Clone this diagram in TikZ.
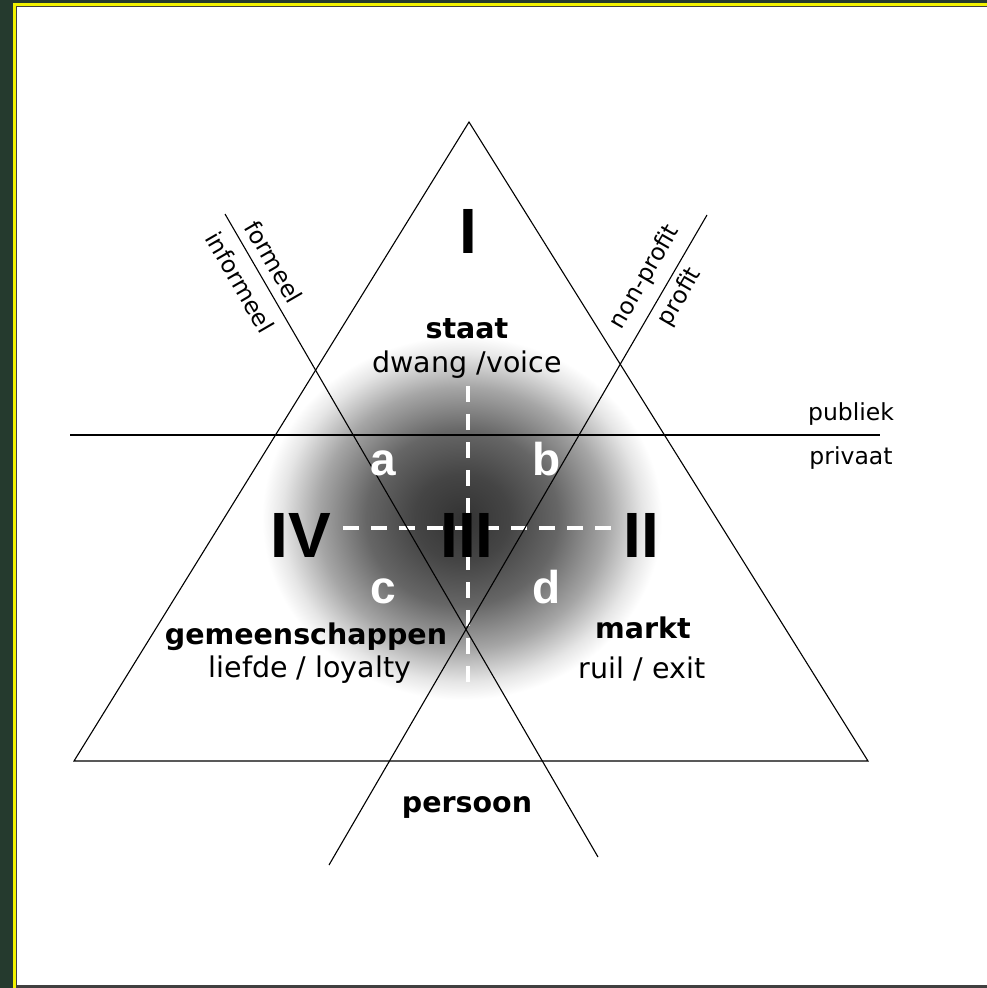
\documentclass[tikz,border=0pt]{standalone}
\usepackage{fontspec}
\setmainfont{DejaVu Sans}
\newfontfamily\numfont{Liberation Sans}
\usetikzlibrary{positioning,calc}
\definecolor{frameGreen}{HTML}{253A2E}
\definecolor{frameYellow}{HTML}{F2F200}
\pgfdeclareradialshading{cShade}{\pgfpoint{0bp}{0bp}}{%
  color(0bp)=(black!80); color(6bp)=(black!73); color(12bp)=(black!60);
  color(18bp)=(black!35); color(22.5bp)=(black!10); color(25bp)=(white);
  color(50bp)=(white)}
\tikzset{
  every picture/.style={line width=1.1pt},
  sLine/.style={black},
  sCut/.style={white, line width=4pt, dash pattern=on 16pt off 12pt},
  sName/.style={font=\bfseries\fontsize{28.5}{31}\selectfont, inner sep=0pt, anchor=base},
  sMode/.style={font=\fontsize{28.5}{31}\selectfont, inner sep=0pt, anchor=base},
  sSide/.style={font=\fontsize{23.5}{26}\selectfont, inner sep=0pt},
  sRoman/.style={font=\numfont\bfseries\fontsize{64}{64}\selectfont, inner sep=0pt, anchor=base},
  sSub/.style={font=\numfont\bfseries\fontsize{46}{46}\selectfont, text=white, inner sep=0pt, anchor=base},
}

\begin{document}
\begin{tikzpicture}[x=1pt,y=-1pt]
  % frame
  \useasboundingbox (0,0) rectangle (987,988);
  \fill[frameGreen] (0,0) rectangle (987,988);
  \fill[frameYellow] (13,3) rectangle (987,988);
  \fill[black!75] (16,6) rectangle (987,988);
  \fill[white] (17,7) rectangle (987,985);
  % shaded core
  \shade[shading=cShade] (462,518) ellipse [x radius=200, y radius=182];
  % points
  \coordinate (apex) at (469,122);
  \coordinate (baseL) at (74,761);
  \coordinate (baseR) at (868,761);
  \coordinate (formA) at (225,214);
  \coordinate (formB) at (598,857);
  \coordinate (profA) at (707,215);
  \coordinate (profB) at (329,865);
  \coordinate (pubA) at (70,435);
  \coordinate (pubB) at (880,435);
  \coordinate (cutT) at (468,386);
  \coordinate (cutB) at (468,692);
  \coordinate (cutL) at (343,528);
  \coordinate (cutR) at (622,528);
  % dashed cross
  \draw[sCut] (cutT) -- (cutB);
  \draw[sCut] (cutL) -- (cutR);
  % lines
  \draw[sLine] (apex) -- (baseR) -- (baseL) -- cycle;
  \draw[sLine] (formA) -- (formB);
  \draw[sLine] (profA) -- (profB);
  \draw[sLine] (pubA) -- (pubB);
  % sector labels
  \node[sRoman] (rI) at (468,253) {I};
  \node[sRoman] (rII) at (641,557) {II};
  \node[sRoman] (rIII) at (467,557) {III};
  \node[sRoman] (rIV) at (301,557) {IV};
  \node[sSub] (sa) at (383,475) {a};
  \node[sSub] (sb) at (547,475) {b};
  \node[sSub] (sc) at (383,603) {c};
  \node[sSub] (sd) at (547,603) {d};
  \node[sName] (staat) at (467,338) {staat};
  \node[sMode] (staatM) at (467,372) {dwang /voice};
  \node[sName] (gem) at (306,644) {gemeenschappen};
  \node[sMode] (gemM) at (310,677) {liefde / loyalty};
  \node[sName] (markt) at (643,638) {markt};
  \node[sMode] (marktM) at (642,678) {ruil / exit};
  \node[sName] (pers) at (467,812) {persoon};
  % side labels
  \node[sSide] (publ) at (851,414) {publiek};
  \node[sSide] (priv) at (851,458) {privaat};
  \node[sSide, rotate=-59.9] (form) at (274,262) {formeel};
  \node[sSide, rotate=-59.9] (inform) at (240,282) {informeel};
  \node[sSide, rotate=59.9] (nonp) at (645,277) {non-profit};
  \node[sSide, rotate=59.9] (prof) at (680,297) {profit};
\end{tikzpicture}
\end{document}
